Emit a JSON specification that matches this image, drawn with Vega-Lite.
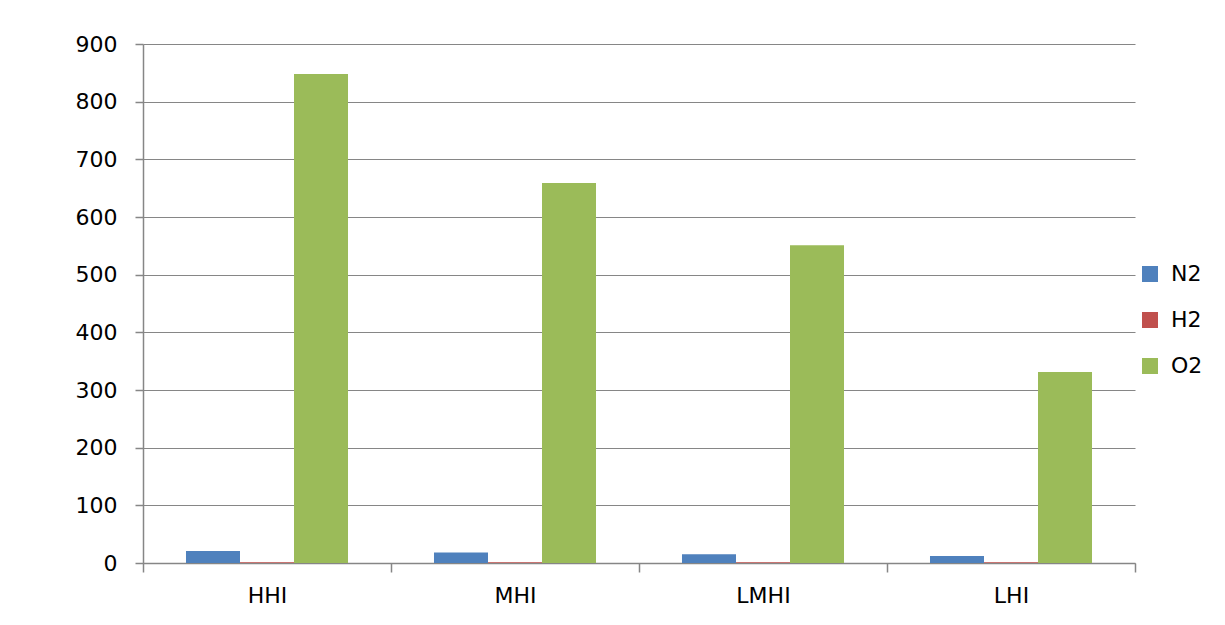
{
  "$schema": "https://vega.github.io/schema/vega-lite/v6.json",
  "autosize": {"type": "none"},
  "width": 992,
  "height": 519,
  "padding": {"left": 143, "top": 44, "right": 90, "bottom": 62},
  "background": "white",
  "data": {
    "values": [
      {"region": "HHI", "gas": "N2", "value": 21},
      {"region": "HHI", "gas": "H2", "value": 1.5},
      {"region": "HHI", "gas": "O2", "value": 848},
      {"region": "MHI", "gas": "N2", "value": 18},
      {"region": "MHI", "gas": "H2", "value": 1.5},
      {"region": "MHI", "gas": "O2", "value": 659},
      {"region": "LMHI", "gas": "N2", "value": 15},
      {"region": "LMHI", "gas": "H2", "value": 1.5},
      {"region": "LMHI", "gas": "O2", "value": 551},
      {"region": "LHI", "gas": "N2", "value": 12},
      {"region": "LHI", "gas": "H2", "value": 1.5},
      {"region": "LHI", "gas": "O2", "value": 331}
    ]
  },
  "mark": {"type": "bar"},
  "encoding": {
    "x": {
      "field": "region",
      "type": "nominal",
      "sort": ["HHI", "MHI", "LMHI", "LHI"],
      "scale": {"paddingInner": 0, "paddingOuter": 0},
      "axis": {
        "title": null,
        "labelAngle": 0,
        "tickBand": "extent",
        "domainColor": "#868686",
        "tickColor": "#868686",
        "tickSize": 9,
        "labelFont": "DejaVu Sans",
        "labelFontSize": 22,
        "labelColor": "#000000",
        "labelPadding": 13,
        "grid": false
      }
    },
    "xOffset": {
      "field": "gas",
      "type": "nominal",
      "sort": ["N2", "H2", "O2"],
      "scale": {"paddingInner": 0, "paddingOuter": 0.796}
    },
    "y": {
      "field": "value",
      "type": "quantitative",
      "scale": {"domain": [0, 900], "nice": false},
      "axis": {
        "title": null,
        "values": [0, 100, 200, 300, 400, 500, 600, 700, 800, 900],
        "grid": true,
        "gridColor": "#868686",
        "domainColor": "#868686",
        "tickColor": "#868686",
        "tickSize": 8,
        "labelFont": "DejaVu Sans",
        "labelFontSize": 22,
        "labelColor": "#000000",
        "labelPadding": 18
      }
    },
    "color": {
      "field": "gas",
      "type": "nominal",
      "sort": ["N2", "H2", "O2"],
      "scale": {"domain": ["N2", "H2", "O2"], "range": ["#4F81BD", "#C0504D", "#9BBB59"]},
      "legend": {
        "title": null,
        "orient": "none",
        "legendX": 996,
        "legendY": 219,
        "padding": 0,
        "symbolType": "square",
        "symbolSize": 256,
        "symbolStrokeWidth": 0,
        "symbolOpacity": 1,
        "labelFont": "DejaVu Sans",
        "labelFontSize": 22,
        "labelColor": "#000000",
        "labelOffset": 10,
        "rowPadding": 24
      }
    }
  },
  "config": {
    "view": {"stroke": null},
    "axis": {"domainWidth": 1.5, "tickWidth": 1.5, "gridWidth": 1.2}
  }
}
